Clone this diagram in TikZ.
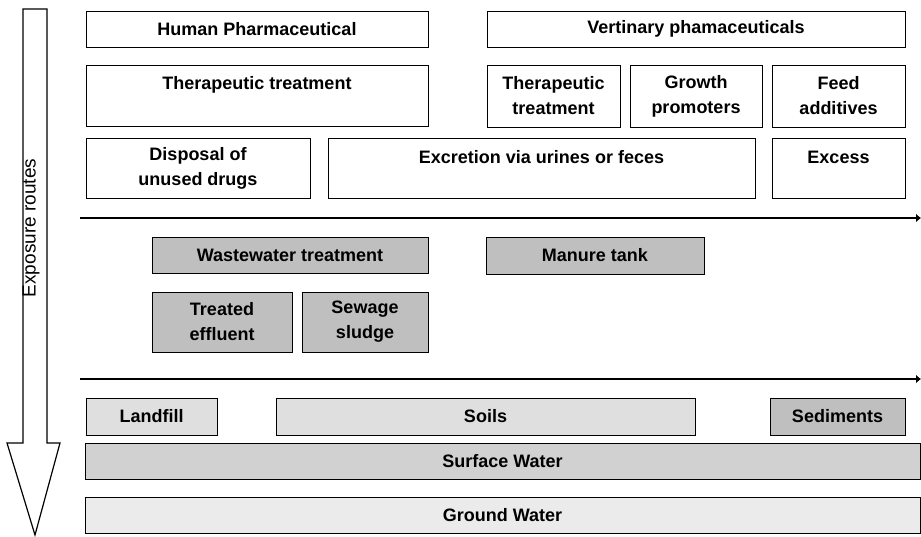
\documentclass[tikz,border=0pt]{standalone}
\usepackage{fontspec}
\setmainfont{Liberation Sans}
\usetikzlibrary{arrows.meta}
\tikzset{
  box/.style={draw=black, line width=1pt, inner sep=0pt, font=\fontsize{18}{25}\selectfont\bfseries, align=center},
  dark/.style={box, fill=gray!50},
  mid/.style={box, fill=gray!36},
  light/.style={box, fill=gray!25},
  pale/.style={box, fill=gray!16},
  toptext/.style={font=\fontsize{18}{25}\selectfont\bfseries, inner sep=0pt},
  sep/.style={line width=1.3pt, -{Latex[length=5pt,width=9pt]}},
}
\begin{document}
\begin{tikzpicture}[x=1pt,y=-1pt]
\useasboundingbox (0,0) rectangle (921,536);
% big arrow
\draw[line width=1.2pt, fill=white] (23,9) -- (47,9) -- (47,443) -- (60,443) -- (35,535) -- (7,443) -- (23,443) -- cycle;
\node[rotate=90, font=\fontsize{19}{20}\selectfont] (er) at (31,228) {Exposure routes};
% sources
\node[box, minimum width=342, minimum height=36] (hp) at (257,29) {Human Pharmaceutical};
\node[box, minimum width=418, minimum height=36] (vp) at (696,29) {Vertinary phamaceuticals};
\node[box, minimum width=342, minimum height=61] (ht) at (257,95.5) {};
\node[toptext] (htt) at (257,85) {Therapeutic treatment};
\node[box, minimum width=133, minimum height=62] (vt) at (553.5,96) {Therapeutic\\treatment};
\node[box, minimum width=132, minimum height=62] (gp) at (696,96) {Growth\\promoters};
\node[box, minimum width=133, minimum height=62] (fa) at (838.5,96) {Feed\\additives};
\node[box, minimum width=224, minimum height=60] (dis) at (198,168) {Disposal of\\unused drugs};
\node[box, minimum width=427, minimum height=60] (exc) at (541.5,168) {};
\node[toptext] (exct) at (541.5,157) {Excretion via urines or feces};
\node[box, minimum width=133, minimum height=60] (ex) at (838.5,168) {};
\node[toptext] (ext) at (838.5,157) {Excess};
% separator 1
\coordinate (s1a) at (80,218);
\coordinate (s1b) at (921,218);
\draw[sep] (s1a) -- (s1b);
% treatment
\node[dark, minimum width=276, minimum height=36] (ww) at (290,255) {Wastewater treatment};
\node[dark, minimum width=218, minimum height=37] (mt) at (595,255.5) {Manure tank};
\node[dark, minimum width=140, minimum height=60] (te) at (222,322) {Treated\\effluent};
\node[dark, minimum width=126, minimum height=60] (ss) at (365,322) {Sewage\\sludge};
% separator 2
\coordinate (s2a) at (80,379);
\coordinate (s2b) at (921,379);
\draw[sep] (s2a) -- (s2b);
% environment
\node[light, minimum width=131, minimum height=37] (lf) at (151.5,416.5) {Landfill};
\node[light, minimum width=419, minimum height=37] (so) at (485.5,416.5) {Soils};
\node[dark, minimum width=135, minimum height=37] (se) at (837.5,416.5) {Sediments};
\node[mid, minimum width=835, minimum height=36] (sw) at (502.5,461) {Surface Water};
\node[pale, minimum width=835, minimum height=36] (gw) at (502.5,515) {Ground Water};
\end{tikzpicture}
\end{document}
